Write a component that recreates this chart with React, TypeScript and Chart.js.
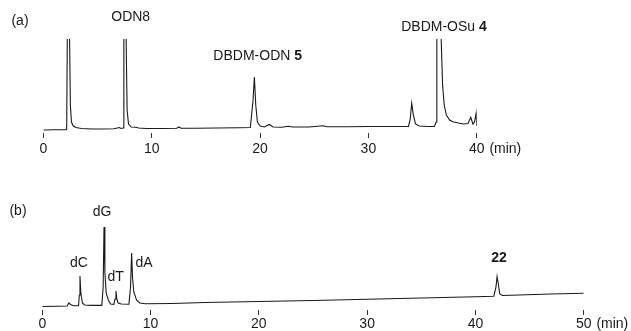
import React, { useEffect, useRef } from 'react';
import { Chart, registerables } from 'chart.js';

Chart.register(...registerables);

// ---------- Panel (a): retention time (min) and detector signal ----------
const timeA = [
  0, 1.0, 2.0, 2.14, 2.2, 2.4, 2.48, 2.58, 2.75, 3.0, 3.5, 4.5, 5.5, 6.5, 7.0, 7.15, 7.35,
  7.42, 7.62, 7.72, 7.85, 8.1, 8.5, 8.8, 9.5, 11, 12.3, 12.5, 12.7, 14, 16, 18, 19.1, 19.35,
  19.47, 19.6, 19.75, 20.0, 20.4, 20.85, 21.2, 22, 22.6, 23, 24.5, 25.8, 26.2, 28, 30, 32,
  33.7, 33.85, 34.0, 34.15, 34.35, 34.7, 35.5, 36.1, 36.25, 36.32, 36.7, 36.85, 37.0, 37.2,
  37.5, 37.8, 38.3, 38.8, 39.2, 39.45, 39.65, 39.8, 39.95, 40.0,
];
const signalA = [
  0, 0.2, 0.3, 0.5, 98, 98, 25, 8, 4, 2.5, 1.5, 1, 1, 1.2, 2.5, 1.5, 2,
  98, 98, 20, 6, 3, 2.8, 2, 1.5, 1.5, 1.8, 3, 1.8, 1.8, 2, 2.2, 2.5, 30,
  53, 25, 8, 4, 3, 5.5, 3, 2.8, 3.8, 3, 3, 4.3, 3.2, 3.3, 3.5, 3.5,
  3.6, 10, 26.7, 15, 6, 4, 3.5, 3.6, 8, 98, 98, 45, 25, 15,
  10, 8.3, 7, 6, 6.5, 12.7, 6, 8, 17, 4,
];
const ticksA = [0, 10, 20, 30, 40];

// ---------- Panel (b) ----------
const timeB = [
  0, 1.5, 2.3, 2.45, 2.6, 2.9, 3.35, 3.42, 3.48, 3.56, 3.7, 3.9, 4.5, 5.5, 5.62, 5.7, 5.78,
  5.9, 6.1, 6.3, 6.6, 6.72, 6.8, 6.88, 7.0, 7.3, 8.0, 8.15, 8.25, 8.33, 8.45, 8.7, 9.0, 9.5,
  12, 15, 20, 25, 30, 35, 38, 40, 41.7, 41.9, 42.0, 42.1, 42.25, 42.5, 44, 47, 50,
];
const signalB = [
  0.5, 0.8, 1.0, 4, 2.5, 1.3, 1.3, 12, 31, 14, 4, 2, 1.6, 1.6, 20, 80, 35,
  14, 7, 3, 2.5, 8, 16, 8, 4, 3, 2.8, 20, 54, 30, 15, 7, 4, 3.2,
  3.5, 4.5, 5.5, 6.5, 7.7, 9, 9.8, 10.3, 10.8, 20, 30.5, 24, 13, 11.5, 12, 13, 13.7,
];
const ticksB = [0, 10, 20, 30, 40, 50];

const unitLabel = '(min)';

type Ann = { text: string; bold?: string; cx: number; cy: number };

const annA: Ann[] = [
  { text: '(a)', cx: 20, cy: 21 },
  { text: 'ODN8', cx: 130.7, cy: 17.5 },
  { text: 'DBDM-ODN ', bold: '5', cx: 257.7, cy: 55.7 },
  { text: 'DBDM-OSu ', bold: '4', cx: 444, cy: 27 },
];
const annB: Ann[] = [
  { text: '(b)', cx: 18, cy: 211 - 165 },
  { text: 'dG', cx: 102, cy: 212 - 165 },
  { text: 'dC', cx: 79, cy: 263 - 165 },
  { text: 'dT', cx: 115.7, cy: 277 - 165 },
  { text: 'dA', cx: 144, cy: 263.5 - 165 },
  { text: '', bold: '22', cx: 499, cy: 258.5 - 165 },
];

const FONT = '"Liberation Sans", Arial, Helvetica, sans-serif';
const INK = '#1a1a1a';

function textPlugin(anns: Ann[], lastTick: number, tickPad: number) {
  return {
    id: 'texts',
    afterDraw(chart: any) {
      const ctx = chart.ctx as CanvasRenderingContext2D;
      ctx.save();
      ctx.fillStyle = INK;
      ctx.textBaseline = 'middle';
      ctx.textAlign = 'left';
      for (const a of anns) {
        ctx.font = `14px ${FONT}`;
        const w1 = ctx.measureText(a.text).width;
        ctx.font = `bold 14px ${FONT}`;
        const w2 = a.bold ? ctx.measureText(a.bold).width : 0;
        const x0 = a.cx - (w1 + w2) / 2;
        ctx.font = `14px ${FONT}`;
        ctx.fillText(a.text, x0, a.cy);
        if (a.bold) {
          ctx.font = `bold 14px ${FONT}`;
          ctx.fillText(a.bold, x0 + w1, a.cy);
        }
      }
      // unit after last tick label
      const xs = chart.scales.x;
      ctx.font = `14px ${FONT}`;
      const lw = ctx.measureText(String(lastTick)).width;
      const sw = ctx.measureText(' ').width;
      const px = xs.getPixelForValue(lastTick) + lw / 2 + sw + 1;
      const ly = xs.top + 5 + tickPad + 8.4;
      ctx.fillText(unitLabel, px, ly);
      ctx.restore();
    },
  };
}

function makeConfig(
  times: number[],
  values: number[],
  ticks: number[],
  xmax: number,
  ymin: number,
  ymax: number,
  pad: { left: number; right: number; top: number; bottom: number },
  axisH: number,
  tickPad: number,
  anns: Ann[]
): any {
  return {
    type: 'line',
    data: {
      datasets: [
        {
          data: times.map((t, i) => ({ x: t, y: values[i] })),
          borderColor: INK,
          borderWidth: 1.1,
          pointRadius: 0,
          tension: 0,
          fill: false,
          clip: 0,
        },
      ],
    },
    options: {
      responsive: false,
      animation: false,
      events: [],
      layout: { padding: pad },
      plugins: { legend: { display: false }, tooltip: { enabled: false } },
      scales: {
        x: {
          type: 'linear',
          min: 0,
          max: xmax,
          afterFit: (s: any) => {
            s.height = axisH;
          },
          afterBuildTicks: (s: any) => {
            s.ticks = ticks.map((v) => ({ value: v }));
          },
          grid: {
            display: true,
            drawOnChartArea: false,
            drawTicks: true,
            tickLength: 5,
            color: '#333',
            lineWidth: 1,
          },
          border: { display: false },
          ticks: {
            font: { family: FONT, size: 14 },
            color: INK,
            padding: tickPad,
            maxRotation: 0,
            autoSkip: false,
          },
        },
        y: { display: false, min: ymin, max: ymax },
      },
    },
    plugins: [textPlugin(anns, ticks[ticks.length - 1], tickPad)],
  };
}

export default function App() {
  const refA = useRef<HTMLCanvasElement>(null);
  const refB = useRef<HTMLCanvasElement>(null);

  useEffect(() => {
    const a = new Chart(
      refA.current!,
      makeConfig(timeA, signalA, ticksA, 40, -3, 91,
        { left: 43.5, right: 631 - 476.7, top: 39, bottom: 8 }, 24, 3, annA)
    );
    const b = new Chart(
      refB.current!,
      makeConfig(timeB, signalB, ticksB, 50, -3, 85,
        { left: 42.3, right: 631 - 583.7, top: 57, bottom: 0 }, 21, 1, annB)
    );
    return () => {
      a.destroy();
      b.destroy();
    };
  }, []);

  return (
    <div style={{ position: 'absolute', left: 0, top: 0, width: 631, height: 331, background: '#fff' }}>
      <canvas ref={refA} width={631} height={165}
        style={{ position: 'absolute', left: 0, top: 0, width: 631, height: 165 }} />
      <canvas ref={refB} width={631} height={166}
        style={{ position: 'absolute', left: 0, top: 165, width: 631, height: 166 }} />
    </div>
  );
}
